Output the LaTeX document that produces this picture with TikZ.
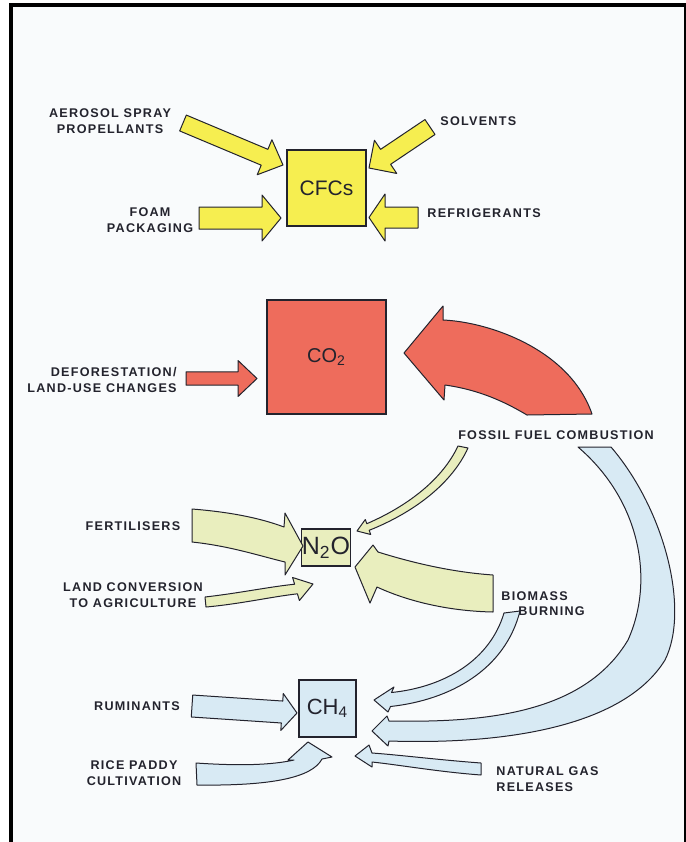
\documentclass[tikz,border=0pt]{standalone}
\usepackage{fontspec}
\setmainfont{Liberation Sans}[LetterSpace=10]
\newfontfamily\boxfont{Liberation Sans}
\usetikzlibrary{calc}
\usetikzlibrary{positioning}
\definecolor{ink}{RGB}{35,35,45}
\definecolor{paper}{RGB}{249,251,252}
\definecolor{cfcyellow}{RGB}{246,238,80}
\definecolor{cored}{RGB}{238,108,92}
\definecolor{ntwogreen}{RGB}{233,238,190}
\definecolor{chfourblue}{RGB}{216,234,244}
\tikzset{gas box/.style={shape=rectangle,
    draw=ink, line width=0.6pt, inner sep=0pt, text=ink},
  source label/.style={align=center, text=ink, inner sep=0pt,
    font=\fontsize{6.3}{7.8}\selectfont\bfseries},
  cfc arrow/.style={draw=ink, line width=0.5pt, line join=round, fill=cfcyellow},
  co arrow/.style={draw=ink, line width=0.5pt, line join=round, fill=cored},
  ntwo arrow/.style={draw=ink, line width=0.5pt, line join=round, fill=ntwogreen},
  ch arrow/.style={draw=ink, line width=0.5pt, line join=round, fill=chfourblue}}
% straight fat arrow: style, tail, tip, half shaft, half head, head length
\newcommand{\blockarrow}[6]{%
  \coordinate (ba-s) at (#2);
  \coordinate (ba-e) at (#3);
  \coordinate (ba-n) at ($(ba-e)!#6!(ba-s)$);
  \draw[#1] ($(ba-s)!#4!90:(ba-e)$) -- ($(ba-n)!#4!90:(ba-e)$)
    -- ($(ba-n)!#5!90:(ba-e)$) -- (ba-e) -- ($(ba-n)!#5!-90:(ba-e)$)
    -- ($(ba-n)!#4!-90:(ba-e)$) -- ($(ba-s)!#4!-90:(ba-e)$) -- cycle;}

\begin{document}
\begin{tikzpicture}[x=0.5pt,y=-0.5pt]
    \useasboundingbox (0,0) rectangle (686,842);
    \fill[white] (0,0) rectangle (686,842);
    \fill[paper] (11,5) rectangle (685,842);
    \draw[black, line width=2pt] (11,842) -- (11,5) -- (686,5);
    \draw[black, line width=1pt] (685,5) -- (685,842);

    % gases
    \node[gas box, fill=cfcyellow, minimum width=39.5pt, minimum height=38pt,
      font=\boxfont\fontsize{10.5}{12}\selectfont] (cfc) at (326.5,188) {CFCs};
    \node[gas box, fill=cored, minimum width=59.5pt, minimum height=57pt,
      font=\boxfont\fontsize{10}{12}\selectfont] (co) at (326.5,357) {CO\textsubscript{2}};
    \node[gas box, fill=ntwogreen, minimum width=22pt, minimum height=18.5pt,
      font=\boxfont\fontsize{12.5}{14}\selectfont] (ntwo) at (326,547.5) {N\textsubscript{2}O};
    \node[gas box, fill=chfourblue, minimum width=28.5pt, minimum height=28.5pt,
      font=\boxfont\fontsize{11}{13}\selectfont] (chfour) at (327.5,708.5) {CH\textsubscript{4}};

    % sources
    \node[source label] (aerosol) at (110,121) {AEROSOL SPRAY\\PROPELLANTS};
    \node[source label, anchor=west] (solvents) at (440,121) {SOLVENTS};
    \node[source label] (foam) at (150,220) {FOAM\\PACKAGING};
    \node[source label, anchor=west] (refrig) at (427,213) {REFRIGERANTS};
    \node[source label, align=right, anchor=east] (defor) at (177,380) {DEFORESTATION/\\LAND-USE CHANGES};
    \node[source label] (fossil) at (556,435) {FOSSIL FUEL COMBUSTION};
    \node[source label] (fert) at (133,526) {FERTILISERS};
    \node[source label] (landconv) at (133,595) {LAND CONVERSION\\TO AGRICULTURE};
    \node[source label, align=left, anchor=west] (biomass) at (501,603.5) {BIOMASS\\\hspace*{8.5pt}BURNING};
    \node[source label] (rumin) at (137,706) {RUMINANTS};
    \node[source label] (rice) at (134,773) {RICE PADDY\\CULTIVATION};
    \node[source label, align=left, anchor=west] (natgas) at (496,779) {NATURAL GAS\\RELEASES};

    % straight arrows
    \coordinate (aerosol tail) at (183,123);
    \coordinate (aerosol tip) at (283,165);
    \coordinate (solvents tail) at (430,127);
    \coordinate (solvents tip) at (369,168);
    \coordinate (foam tail) at (199,218);
    \coordinate (foam tip) at (281,218);
    \coordinate (refrig tail) at (418,217.5);
    \coordinate (refrig tip) at (369,217.5);
    \coordinate (defor tail) at (186,378.5);
    \coordinate (defor tip) at (257,378.5);
    \coordinate (rumin tail) at (192,706);
    \coordinate (rumin tip) at (297,713);
    \blockarrow{cfc arrow}{aerosol tail}{aerosol tip}{4.3pt}{9.5pt}{10pt}
    \blockarrow{cfc arrow}{solvents tail}{solvents tip}{4.5pt}{10pt}{10pt}
    \blockarrow{cfc arrow}{foam tail}{foam tip}{5.5pt}{11.5pt}{9.5pt}
    \blockarrow{cfc arrow}{refrig tail}{refrig tip}{5.25pt}{11.75pt}{8pt}
    \blockarrow{co arrow}{defor tail}{defor tip}{3.3pt}{9pt}{9.5pt}
    \blockarrow{ch arrow}{rumin tail}{rumin tip}{5.5pt}{9.25pt}{7.5pt}

    % curved arrows
    \draw[co arrow] (592,414) -- (527,415) .. controls (505,402) and (480,390) .. (445,385)
      -- (444,400) -- (404,353) -- (443,306) -- (443,320)
      .. controls (490,322) and (570,350) .. (592,414) -- cycle;
    \draw[ntwo arrow] (192,509) .. controls (230,512) and (260,518) .. (284,527)
      -- (285,513) -- (303,546) -- (285,575) -- (285,562)
      .. controls (260,556) and (230,546) .. (192,542) -- cycle;
    \draw[ntwo arrow] (205,597) .. controls (240,593) and (268,587) .. (294.6,584.2)
      -- (292.6,577.5) -- (313,584) -- (299.4,600.5) -- (297.4,593.8)
      .. controls (270,597) and (240,604) .. (206,607) -- cycle;
    \draw[ntwo arrow] (458,446) -- (468,448) .. controls (452,483) and (415,512) .. (369.2,530.3)
      -- (370.7,534.5) -- (357,531) -- (365.3,519.5) -- (366.8,523.7)
      .. controls (410,505) and (443,478) .. (458,446) -- cycle;
    \draw[ntwo arrow] (493,575) .. controls (450,572) and (410,562) .. (378,552)
      -- (373,545) -- (355,567) -- (370,603) -- (377,587)
      .. controls (405,600) and (445,611) .. (493,612) -- cycle;
    \draw[ch arrow] (504,613) -- (520,611) .. controls (505,670) and (450,700) .. (390.5,706.5)
      -- (388,712) -- (374,700) -- (394,687) -- (391.5,692.5)
      .. controls (445,687) and (490,660) .. (504,613) -- cycle;
    \draw[ch arrow] (578,447) -- (611,447) .. controls (665,510) and (690,610) .. (665,660)
      .. controls (625,725) and (510,745) .. (389,741)
      -- (388,746) -- (372,731) -- (387,716) -- (389,721)
      .. controls (490,723) and (585,712) .. (628,640)
      .. controls (655,580) and (640,500) .. (578,447) -- cycle;
    \draw[ch arrow] (196,763) .. controls (240,766) and (272,765) .. (294,760)
      -- (288,760) -- (308,742) -- (332,757) -- (322,759)
      .. controls (312,778) and (270,786) .. (197,785) -- cycle;
    \draw[ch arrow] (481,763) .. controls (440,760) and (400,755) .. (372,753)
      -- (369,745) -- (355,756) -- (372,767) -- (372,762)
      .. controls (400,765) and (440,772) .. (481,775) -- cycle;
\end{tikzpicture}
\end{document}
